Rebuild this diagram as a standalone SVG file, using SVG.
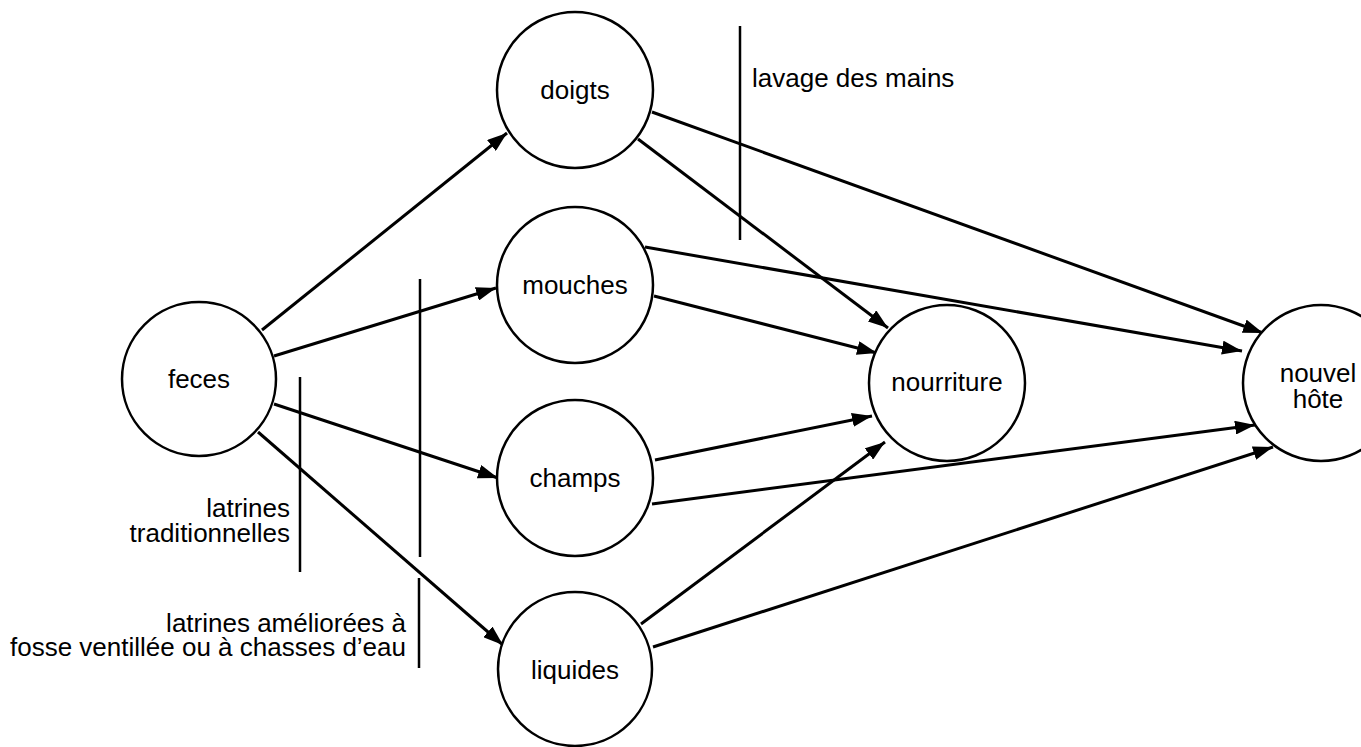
<svg xmlns="http://www.w3.org/2000/svg" width="1361" height="747" viewBox="0 0 1361 747">
<style>
.node circle{fill:#fff;stroke:#000;stroke-width:2.5}
.lbl{font-family:"Liberation Sans",Arial,sans-serif;font-size:26px;fill:#000}
.c{text-anchor:middle}
.r{text-anchor:end}
.edge{stroke:#000;stroke-width:3;fill:none}
.bar{stroke:#000;stroke-width:2.5;fill:none}
</style>
<defs>
<marker id="ah" markerUnits="userSpaceOnUse" markerWidth="22" markerHeight="14" refX="20" refY="7" orient="auto" viewBox="0 0 22 14">
<path d="M0,0 L20,7 L0,14 Z" fill="#000"/>
</marker>
</defs>
<rect width="1361" height="747" fill="#fff"/>
<g id="connectors">
<line class="edge" x1="262" y1="330" x2="507" y2="133" marker-end="url(#ah)"/>
<line class="edge" x1="274" y1="356" x2="496" y2="288" marker-end="url(#ah)"/>
<line class="edge" x1="274" y1="404" x2="498" y2="478" marker-end="url(#ah)"/>
<line class="edge" x1="258" y1="432" x2="503" y2="645" marker-end="url(#ah)"/>
<line class="edge" x1="652" y1="112" x2="1263" y2="333" marker-end="url(#ah)"/>
<line class="edge" x1="638" y1="139" x2="888" y2="328" marker-end="url(#ah)"/>
<line class="edge" x1="645" y1="247" x2="1242" y2="351" marker-end="url(#ah)"/>
<line class="edge" x1="654" y1="296" x2="877" y2="353" marker-end="url(#ah)"/>
<line class="edge" x1="655" y1="460" x2="872" y2="416" marker-end="url(#ah)"/>
<line class="edge" x1="652" y1="504" x2="1255" y2="425" marker-end="url(#ah)"/>
<line class="edge" x1="641" y1="624" x2="885" y2="442" marker-end="url(#ah)"/>
<line class="edge" x1="653" y1="647" x2="1273" y2="447" marker-end="url(#ah)"/>
</g>
<g id="barriers">
<line class="bar" x1="740" y1="26" x2="740" y2="240"/>
<line class="bar" x1="420" y1="279" x2="420" y2="557"/>
<line class="bar" x1="419" y1="578" x2="419" y2="668"/>
<line class="bar" x1="300" y1="377" x2="300" y2="572"/>
</g>
<g id="node-feces" class="node"><circle cx="199" cy="379" r="77"/><text class="lbl c" x="199" y="388">feces</text></g>
<g id="node-doigts" class="node"><circle cx="575" cy="90" r="78"/><text class="lbl c" x="575" y="99">doigts</text></g>
<g id="node-mouches" class="node"><circle cx="575" cy="285" r="78"/><text class="lbl c" x="575" y="294">mouches</text></g>
<g id="node-champs" class="node"><circle cx="575" cy="478" r="78"/><text class="lbl c" x="575" y="487">champs</text></g>
<g id="node-liquides" class="node"><circle cx="575" cy="669" r="77"/><text class="lbl c" x="575" y="679">liquides</text></g>
<g id="node-nourriture" class="node"><circle cx="947" cy="383" r="78"/><text class="lbl c" x="947" y="391">nourriture</text></g>
<g id="node-nouvel-hote" class="node"><circle cx="1321" cy="383" r="78"/><text class="lbl c" x="1318" y="382">nouvel</text><text class="lbl c" x="1318" y="408">hôte</text></g>
<g id="labels">
<text class="lbl" x="752" y="87">lavage des mains</text>
<text class="lbl r" x="290" y="517">latrines</text>
<text class="lbl r" x="290" y="542">traditionnelles</text>
<text class="lbl r" x="406" y="632">latrines améliorées à</text>
<text class="lbl r" x="406" y="656">fosse ventillée ou à chasses d’eau</text>
</g>
</svg>
